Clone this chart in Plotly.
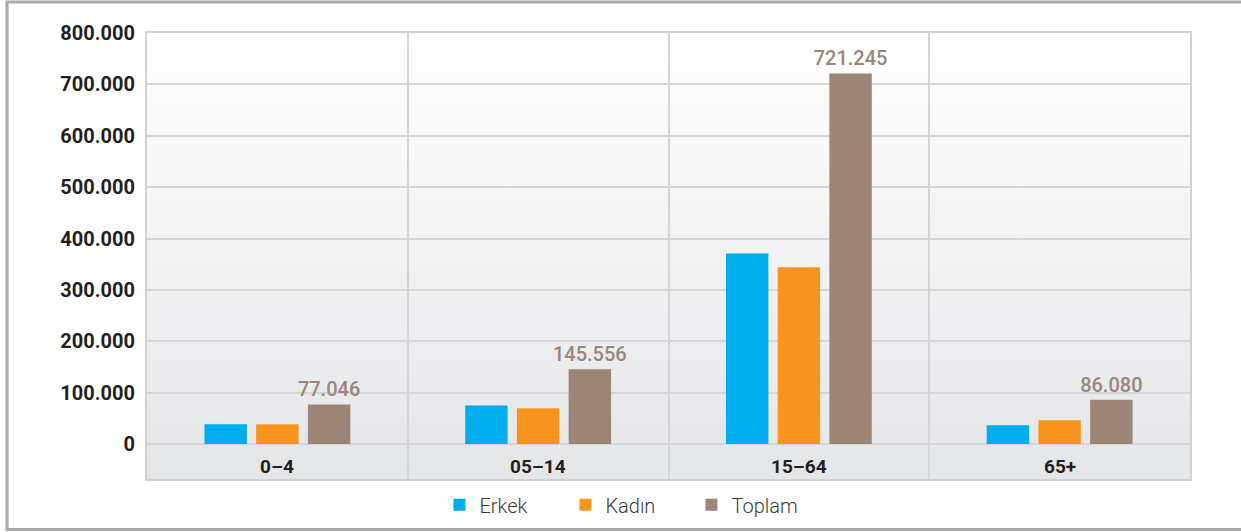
import base64
import plotly.graph_objects as go

categories = ["0–4", "05–14", "15–64", "65+"]
erkek = [38500, 75000, 371000, 36500]
kadin = [38500, 69500, 344000, 46000]
toplam = [77046, 145556, 721245, 86080]
series_names = ["Erkek", "Kadın", "Toplam"]
y_ticks = [0, 100000, 200000, 300000, 400000, 500000, 600000, 700000, 800000]

colors = ["#00AEEF", "#F7941D", "#9C8577"]
FONT = "Roboto"

fig = go.Figure()
for name, vals, col in zip(series_names, [erkek, kadin, toplam], colors):
    show_text = name == "Toplam"
    fig.add_trace(go.Bar(
        name=name, x=categories, y=vals, marker=dict(color=col, line=dict(width=0)),
        texttemplate="%{y:,}" if show_text else None,
        textposition="outside" if show_text else "none",
        constraintext="none",
        textfont=dict(family=FONT, size=20, color="#9C8577", weight=500),
        cliponaxis=False,
    ))

svg = ('<svg xmlns="http://www.w3.org/2000/svg" width="100" height="100" preserveAspectRatio="none">'
       '<defs><linearGradient id="g" x1="0" y1="0" x2="0" y2="1">'
       '<stop offset="0" stop-color="#ffffff"/><stop offset="0.92" stop-color="#e6e7e9"/>'
       '<stop offset="1" stop-color="#e5e6e8"/></linearGradient></defs>'
       '<rect width="100" height="100" fill="url(#g)"/></svg>')
src = "data:image/svg+xml;base64," + base64.b64encode(svg.encode()).decode()

ymin = -68127
annotations = [dict(x=c, y=-44000, xref="x", yref="y", text=c, showarrow=False,
                    font=dict(family=FONT, size=19, color="#231f20", weight="bold"),
                    yanchor="middle") for c in categories]

fig.update_layout(
    width=1241, height=532,
    margin=dict(l=147, r=51, t=33, b=53, autoexpand=False),
    paper_bgcolor="white", plot_bgcolor="rgba(0,0,0,0)",
    separators=",.",
    barmode="group", bargap=0.405, bargroupgap=0.18,
    images=[dict(source=src, xref="paper", yref="paper", x=0, y=1, sizex=1, sizey=1,
                 sizing="stretch", layer="below", xanchor="left", yanchor="top")],
    xaxis=dict(showticklabels=False, ticks="", showgrid=True, gridcolor="#d4d5d7", gridwidth=1.5,
               tickson="boundaries", showline=True, linecolor="#d0d1d3", linewidth=2, mirror=True,
               zeroline=False),
    yaxis=dict(range=[ymin, 800000], tickvals=y_ticks, tickformat=",", showgrid=True,
               gridcolor="#d4d5d7", gridwidth=1.5, zeroline=False, ticks="",
               showline=True, linecolor="#d0d1d3", linewidth=2, mirror=True,
               ticklabelstandoff=6,
               tickfont=dict(family=FONT, size=20, color="#231f20", weight="bold")),
    legend=dict(orientation="h", xref="paper", yref="paper", x=0.4616, y=-0.058,
                xanchor="center", yanchor="middle", entrywidth=81, entrywidthmode="pixels",
                font=dict(family=FONT, size=20, color="#3a3a3a", weight=300),
                bgcolor="rgba(0,0,0,0)"),
    showlegend=True,
    annotations=annotations,
    shapes=[dict(type="rect", xref="paper", yref="paper", x0=-0.1342, x1=1.08, y0=-0.1131, y1=1.0695,
                 line=dict(color="#a7a9ac", width=3), fillcolor="rgba(0,0,0,0)", layer="below")],
)

post = ("document.body.style.margin='0';document.body.style.overflow='hidden';")
fig.write_html("out.html", post_script=post, config={"displayModeBar": False})
